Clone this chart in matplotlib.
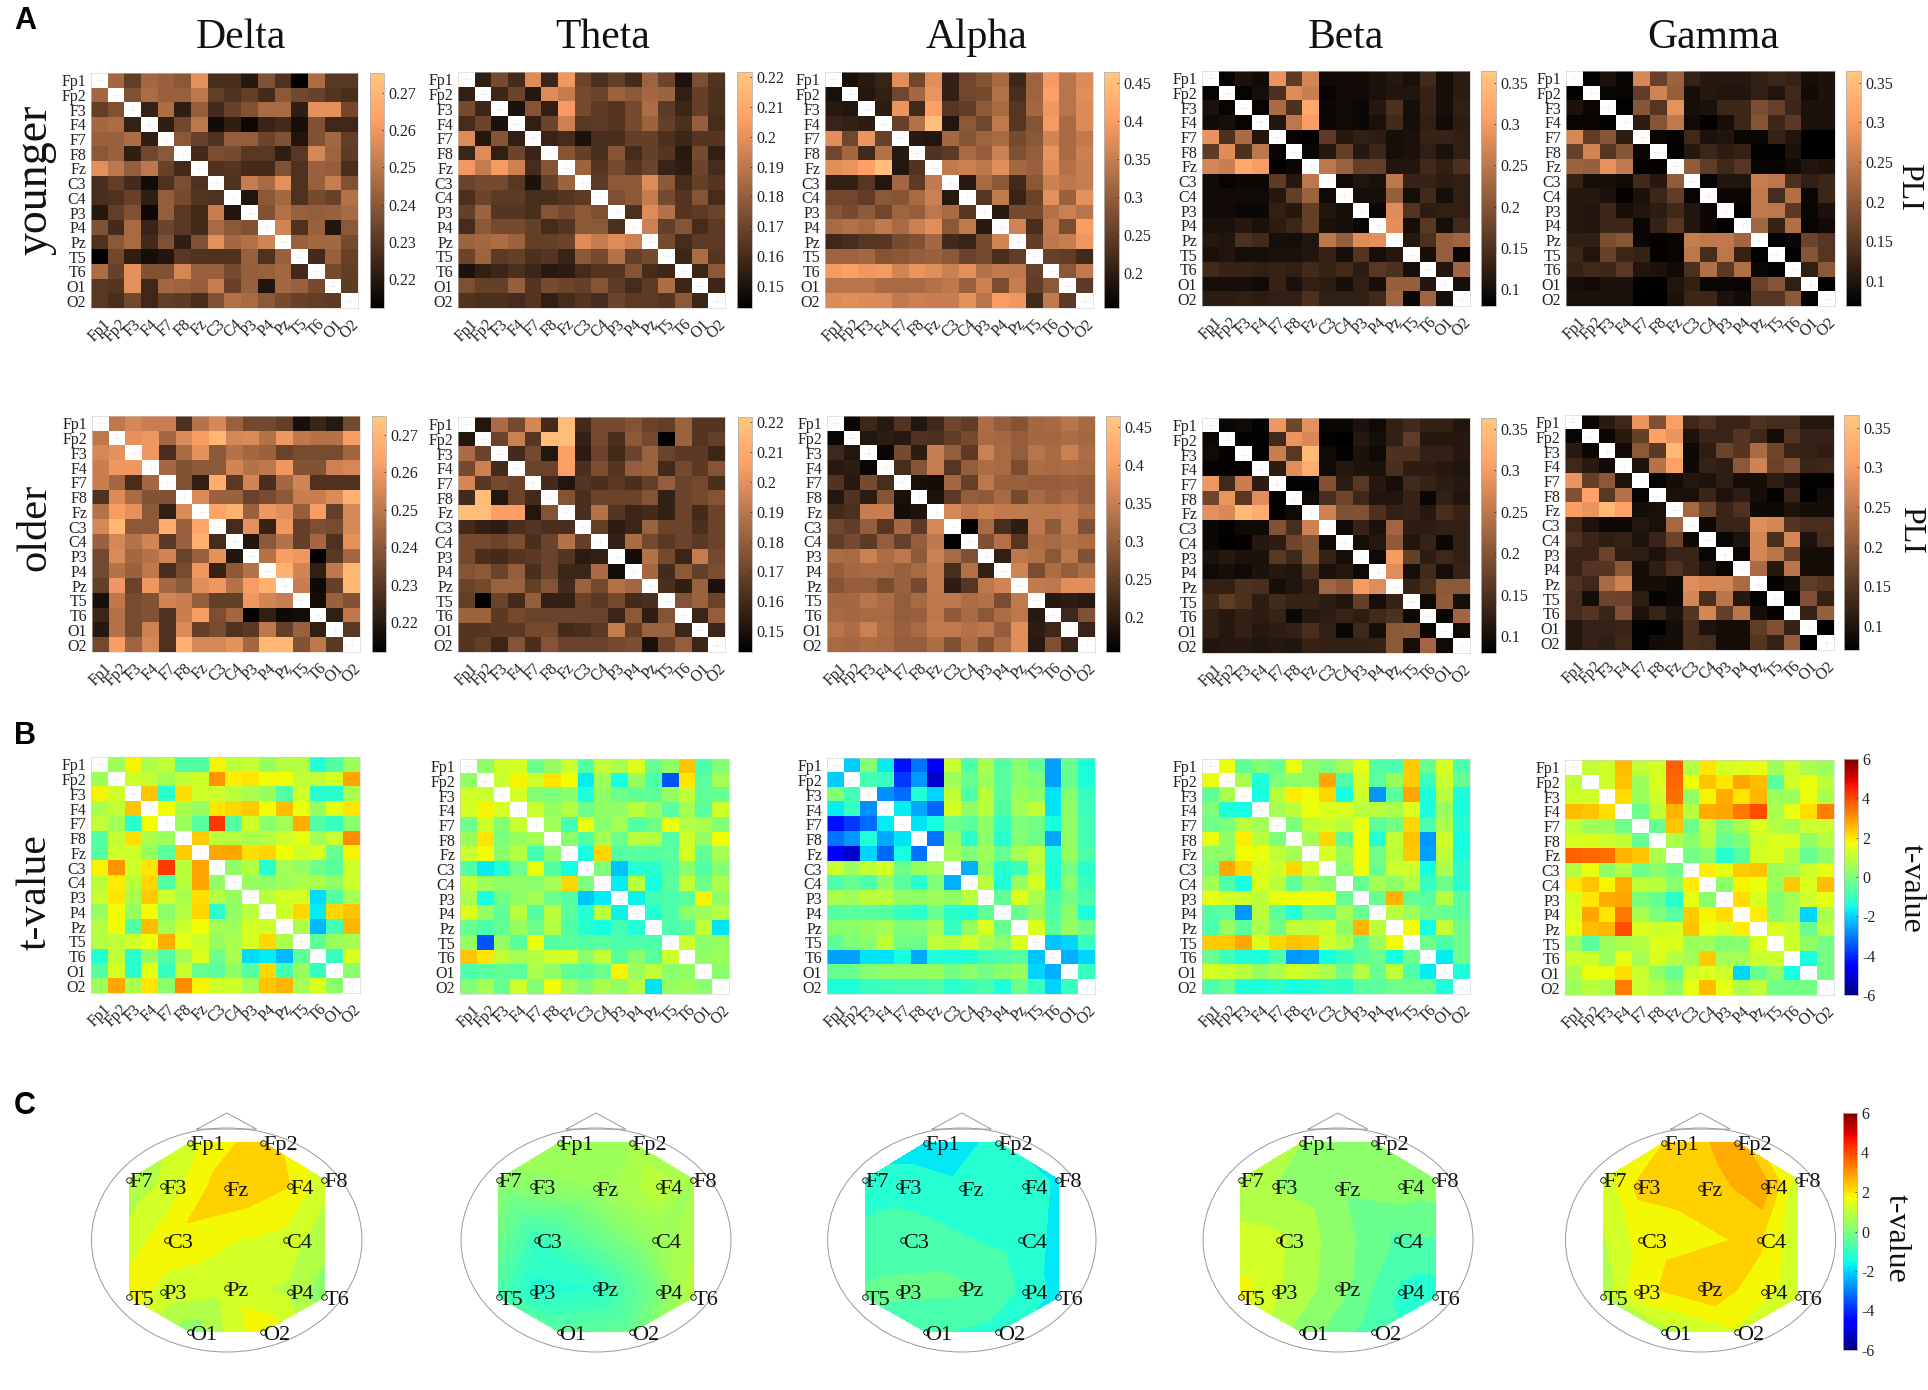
import numpy as np
import matplotlib
matplotlib.use("Agg")
import matplotlib.pyplot as plt
from matplotlib.patches import Ellipse

plt.rcParams['font.family'] = ['Liberation Serif', 'DejaVu Serif']

W, H = 1928, 1390
channels = ['Fp1', 'Fp2', 'F3', 'F4', 'F7', 'F8', 'Fz', 'C3', 'C4', 'P3', 'P4', 'Pz', 'T5', 'T6', 'O1', 'O2']
bands = ['Delta', 'Theta', 'Alpha', 'Beta', 'Gamma']

# Upper triangles, PLI x 1000, row by row
delta_younger = [
 [245,232,245,243,240,258,227,227,220,238,228,212,247,230,230],
 [238,247,243,243,250,232,228,232,226,240,235,233,229,227],
 [223,247,222,242,226,233,238,246,246,222,258,258,235],
 [222,235,250,216,222,215,224,226,217,238,225,225],
 [240,233,228,242,242,234,238,219,238,245,232],
 [226,237,236,230,230,222,230,255,244,231],
 [228,229,226,226,238,228,243,242,227],
 [228,252,246,258,228,243,252,238],
 [219,240,245,228,236,233,248],
 [238,248,243,242,243,246],
 [254,228,243,219,240],
 [243,245,245,236],
 [226,243,233],
 [236,232],
 [231]]
delta_older = [
 [250,255,252,252,228,248,255,243,235,235,232,217,224,220,235],
 [258,260,245,256,262,270,255,256,248,260,250,248,248,262],
 [260,227,246,258,240,248,245,243,233,236,236,236,244],
 [245,238,240,240,254,248,250,260,238,238,253,255],
 [238,222,266,230,254,227,245,254,228,228,228],
 [256,243,243,233,236,240,252,252,256,268],
 [264,268,243,260,257,242,262,232,255],
 [226,258,223,260,232,237,236,255],
 [219,240,248,232,245,228,258],
 [248,262,260,213,230,245],
 [268,254,222,250,270],
 [252,215,232,270],
 [216,243,238],
 [222,250],
 [230]]
theta_younger = [
 [155,172,160,198,158,203,170,162,168,160,182,170,150,174,163],
 [158,170,152,198,192,172,170,182,178,184,182,155,168,162],
 [150,176,155,204,172,166,164,172,186,166,158,168,162],
 [155,170,194,165,166,164,172,182,168,162,180,160],
 [157,160,150,161,161,168,168,162,158,164,164],
 [176,168,161,176,160,168,164,153,172,155],
 [182,164,172,164,170,157,154,170,160],
 [166,178,178,198,178,160,168,164],
 [174,178,192,172,164,176,160],
 [162,198,188,164,166,170],
 [194,168,176,160,166],
 [172,160,166,166],
 [158,186,164],
 [158,178],
 [158]]
theta_older = [
 [152,186,172,196,160,218,160,172,172,176,170,168,182,164,164],
 [170,194,165,218,218,156,172,162,178,172,144,182,164,168],
 [160,172,152,206,154,170,160,170,182,170,166,166,158],
 [170,170,206,162,174,164,180,182,160,172,166,176],
 [160,152,164,162,166,162,168,180,170,172,162],
 [176,162,170,170,170,176,156,170,172,176],
 [162,188,164,158,160,156,170,160,170],
 [168,154,158,182,170,170,162,170],
 [156,186,172,166,170,166,170],
 [148,188,172,158,192,172],
 [184,160,178,168,174],
 [162,155,182,150],
 [176,182,170],
 [158,180],
 [158]]
alpha_younger = [
 [180,195,210,375,265,375,205,265,285,320,215,310,395,335,370],
 [190,205,265,315,385,205,265,270,330,225,310,405,335,375],
 [200,385,220,405,240,250,295,320,240,315,390,335,370],
 [255,330,450,190,290,265,345,240,285,395,320,370],
 [195,190,315,285,310,320,270,290,360,320,345],
 [235,245,320,300,355,280,300,385,320,355],
 [345,355,340,375,315,305,375,330,350],
 [195,320,290,220,290,355,340,350],
 [240,345,210,260,380,305,380],
 [195,270,270,330,355,335],
 [360,225,345,275,400],
 [250,340,350,390],
 [255,250,220],
 [290,345],
 [245]]
alpha_older = [
 [165,215,195,235,190,220,265,250,325,300,285,315,320,335,320],
 [190,200,195,235,230,250,270,320,315,300,315,315,325,315],
 [165,270,200,350,300,245,355,320,300,335,320,355,325],
 [225,285,350,240,300,325,320,275,325,320,325,320],
 [180,175,315,255,340,305,305,300,300,305,300],
 [185,245,300,295,320,270,320,305,320,300],
 [365,340,355,345,345,340,340,345,325],
 [160,320,225,200,340,295,345,280],
 [280,330,240,325,320,330,325],
 [205,340,330,290,340,280],
 [360,275,325,300,325],
 [345,340,375,375],
 [195,200,195],
 [215,280],
 [210]]
beta_younger = [
 [85,105,95,290,165,270,95,95,95,105,115,105,140,100,120],
 [85,100,150,280,260,85,95,95,105,110,110,130,100,120],
 [85,235,150,320,90,95,90,115,150,100,130,100,125],
 [110,250,305,90,95,90,105,140,100,125,95,120],
 [85,82,165,115,125,120,100,105,130,130,125],
 [90,115,170,115,135,100,105,125,105,125],
 [250,220,170,170,110,110,140,125,150],
 [95,110,105,250,130,130,120,125],
 [100,100,215,100,140,100,125],
 [90,280,155,120,125,125],
 [285,100,160,100,140],
 [115,150,215,225],
 [100,215,90],
 [110,225],
 [100]]
beta_older = [
 [90,95,85,295,180,285,90,90,105,95,125,140,125,125,110],
 [85,85,140,290,275,85,80,115,100,125,165,115,115,115],
 [85,260,160,345,95,85,105,95,150,150,125,125,115],
 [120,280,325,95,115,105,105,145,120,120,115,110],
 [85,85,195,120,160,115,100,140,130,120,115],
 [95,145,180,135,110,110,130,90,125,110],
 [265,195,195,150,125,130,115,145,130],
 [95,130,105,225,120,120,125,125],
 [100,115,210,110,130,90,125],
 [95,300,170,120,135,125],
 [280,100,140,100,130],
 [130,150,205,205],
 [95,210,100],
 [90,225],
 [95]]
gamma_younger = [
 [72,95,75,270,165,215,120,105,105,105,115,125,120,90,95],
 [78,75,160,265,210,90,105,100,100,115,100,130,85,95],
 [72,195,150,285,90,95,125,125,185,165,125,95,95],
 [110,195,250,85,72,90,125,195,125,155,95,95],
 [78,72,130,95,100,78,78,120,100,70,70],
 [72,105,125,110,120,72,72,95,70,70],
 [205,160,130,150,75,75,85,100,95],
 [75,100,100,255,245,140,115,125],
 [80,80,250,135,235,78,125],
 [72,250,245,155,78,95],
 [220,120,235,75,85],
 [72,78,170,150],
 [72,195,150],
 [115,200],
 [72]]
gamma_older = [
 [82,110,130,290,190,305,130,145,125,125,145,135,135,105,105],
 [82,110,165,310,290,100,125,125,150,130,90,150,120,120],
 [88,200,155,345,85,115,170,150,230,175,125,120,115],
 [100,240,310,85,120,115,200,265,170,190,125,130],
 [78,90,105,100,115,90,90,115,100,75,75],
 [95,95,125,100,115,90,75,125,72,88],
 [225,170,125,145,85,85,100,90,90],
 [85,125,125,280,270,150,140,140],
 [80,100,270,140,270,100,135],
 [78,270,245,165,90,90],
 [230,105,245,90,90],
 [75,90,160,150],
 [75,190,120],
 [120,210],
 [72]]

# Upper triangles, t-value x 10
delta_t = [
 [5,18,7,10,-6,-6,18,9,11,4,8,8,-13,-6,5],
 [12,10,6,10,12,30,19,20,17,17,10,10,13,28],
 [24,-12,21,12,12,9,7,4,-6,12,-12,-12,7],
 [17,7,4,20,22,23,17,25,16,4,15,20],
 [5,-5,42,-6,12,2,6,27,-6,-10,2],
 [23,9,9,7,8,12,15,6,11,31],
 [28,28,21,22,17,12,14,-3,18],
 [3,8,-12,6,4,-2,-5,12],
 [4,3,5,7,7,3,12],
 [9,13,13,-19,-6,6],
 [12,22,-17,22,24],
 [7,-23,-8,26],
 [-4,4,6],
 [-10,14],
 [2]]
theta_t = [
 [3,12,13,-2,4,11,-6,10,7,14,-3,3,24,-7,1],
 [11,18,12,20,17,-17,5,-15,4,-7,-35,20,-5,6],
 [13,1,0,2,-14,3,-2,-4,-4,4,10,-4,-3],
 [11,4,8,-2,3,3,9,4,-5,6,-5,12],
 [6,-8,16,2,6,-6,-2,16,8,7,1],
 [2,-6,6,-2,9,8,-6,12,3,17],
 [-15,22,-6,-5,-6,-5,13,-4,6],
 [0,-22,-13,-12,-6,2,-6,1],
 [-17,9,-15,-5,10,-2,7],
 [-16,-8,-7,-5,18,3],
 [-13,-7,2,5,8],
 [-7,-5,10,-18],
 [11,2,4],
 [3,5],
 [2]]
alpha_t = [
 [-21,1,-17,-43,-31,-46,11,-7,7,-6,2,-4,-26,-3,-14],
 [-8,-10,-38,-27,-52,5,-3,5,-5,2,0,-26,-3,-14],
 [-28,-32,-13,-20,10,-7,9,-5,4,2,-18,1,-10],
 [-17,-25,-33,13,3,9,-6,6,10,-18,3,-9],
 [-18,-15,-2,-5,3,-10,0,-1,-15,3,-8],
 [-31,4,-12,3,-12,1,-2,-25,3,-8],
 [6,0,5,-3,6,10,-14,4,-7],
 [-24,3,-12,-10,8,-14,-1,-12],
 [9,-14,4,13,-14,2,-10],
 [-4,14,7,-8,-1,-7],
 [-3,3,-7,2,-14],
 [14,-5,4,-2],
 [-22,-20,-10],
 [-24,-20],
 [-10]]
beta_t = [
 [16,-4,0,-2,16,3,0,6,15,-6,-7,23,-3,13,-7],
 [7,-14,0,3,3,28,-7,13,-5,4,23,-9,11,-3],
 [-15,9,19,17,22,-15,12,-27,-5,28,-14,9,-14],
 [6,9,16,14,14,9,9,7,14,-14,4,-14],
 [0,10,12,9,16,-5,-1,22,-7,7,-12],
 [6,22,-4,17,-13,10,24,-27,12,-15],
 [13,5,17,-1,9,23,-26,10,-14],
 [2,17,-3,12,12,-15,7,-11],
 [-3,6,3,8,-10,-2,-12],
 [-3,26,-4,-5,8,-5],
 [9,5,-2,-3,-5],
 [17,-15,10,-2],
 [-2,-7,-2],
 [-17,-2],
 [-14]]
gamma_t = [
 [10,12,25,10,13,37,8,20,13,14,15,5,12,7,5],
 [12,24,5,14,36,16,24,20,28,25,-5,12,16,9],
 [21,5,12,35,3,18,27,20,26,5,5,16,7],
 [-2,10,26,8,27,28,34,39,7,15,21,33],
 [-3,24,-2,10,0,7,14,8,6,11,11],
 [7,2,9,-3,0,12,14,14,3,8],
 [-1,2,-12,-5,13,14,8,-3,3],
 [19,15,23,24,5,6,12,15],
 [2,18,16,5,23,14,25],
 [21,14,1,6,12,15],
 [19,2,6,-20,7],
 [14,11,-3,10],
 [12,3,-1],
 [-15,-1],
 [-1]]

# Scalp map: t-value per electrode, in the order of `channels`
delta_topo = [1.3,2.4,1.1,2.0,0.6,1.2,2.4,1.8,1.3,1.3,0.9,1.2,1.8,0.2,0.2,1.9]
theta_topo = [0.6,0.6,0.3,1.0,0.3,0.6,0.4,-1.0,0.4,-1.3,0.0,-1.2,-0.7,0.9,-0.5,-0.3]
alpha_topo = [-1.8,-1.4,-1.2,-1.2,-1.3,-1.6,-1.4,-0.7,-1.2,-0.4,-1.1,-0.4,-0.4,-1.7,-0.9,-1.2]
beta_topo = [0.5,0.5,0.5,0.3,0.6,0.3,0.1,1.1,-0.6,1.1,-1.1,0.2,1.7,-1.3,0.3,-0.8]
gamma_topo = [2.0,2.8,2.1,2.8,1.2,1.2,2.2,1.7,2.1,1.8,1.7,2.4,0.7,1.0,0.8,1.4]

# Electrode layout on a unit head
elec_x = [-.27,.27,-.47,.47,-.72,.72,0,-.44,.44,-.47,.47,0,-.72,.72,-.27,.27]
elec_y = [.87,.87,.48,.48,.54,.54,.46,0,0,-.46,-.46,-.43,-.51,-.51,-.82,-.82]

younger = [delta_younger, theta_younger, alpha_younger, beta_younger, gamma_younger]
older = [delta_older, theta_older, alpha_older, beta_older, gamma_older]
tvals = [delta_t, theta_t, alpha_t, beta_t, gamma_t]
topos = [delta_topo, theta_topo, alpha_topo, beta_topo, gamma_topo]
topo_steps = [.5, .2, .5, .5, .5]

cbar_ticks = [[.22,.23,.24,.25,.26,.27],
              [.15,.16,.17,.18,.19,.20,.21,.22],
              [.20,.25,.30,.35,.40,.45],
              [.10,.15,.20,.25,.30,.35],
              [.10,.15,.20,.25,.30,.35]]
younger_lims = [(.2122,.2754),(.1426,.2217),(.154,.4645),(.0794,.3645),(.068,.365)]
older_lims = [(.212,.2751),(.143,.2217),(.154,.4645),(.0795,.363),(.07,.366)]
t_ticks = [-6,-4,-2,0,2,4,6]

# pixel boxes: x0, x1, y0, y1
younger_box = [(91,358,73,308),(458,725,72,308),(825,1093,72,308),(1202,1470,71,306),(1566,1835,71,306)]
younger_cb = [(370,384),(737,752),(1104,1119),(1481,1496),(1846,1861)]
older_box = [(92,360,416,652),(458,725,417,652),(827,1095,416,652),(1202,1470,418,653),(1565,1834,415,650)]
older_cb = [(372,386),(738,752),(1106,1120),(1481,1496),(1844,1859)]
t_box = [(91,360,757,993),(460,729,759,994),(827,1095,758,994),(1202,1470,759,994),(1565,1834,760,995)]
head_box = [(91.5,362),(461,731),(827.6,1096),(1203,1473),(1565.5,1835.6)]
title_x = [241,603,977,1346,1713]

fig = plt.figure(figsize=(W/100, H/100), dpi=100, facecolor='white')

def pax(x0, x1, y0, y1):
    return fig.add_axes([x0/W, 1-y1/H, (x1-x0)/W, (y1-y0)/H])

def ptext(x, y, s, **kw):
    fig.text(x/W, 1-y/H, s, ha=kw.pop('ha','center'), va=kw.pop('va','center'), **kw)

def to_matrix(tri, scale):
    m = np.full((16,16), np.nan)
    for i, row in enumerate(tri):
        for k, v in enumerate(row):
            m[i, i+1+k] = m[i+1+k, i] = v*scale
    return m

def fmt(v):
    return ('%.2f' % v).rstrip('0')

def heat(box, tri, scale, cmap, lims):
    ax = pax(*box)
    cm = plt.get_cmap(cmap).copy()
    cm.set_bad('white')
    im = ax.imshow(to_matrix(tri, scale), cmap=cm, vmin=lims[0], vmax=lims[1],
                   aspect='auto', interpolation='nearest')
    d = np.arange(16)
    ax.plot(d, d, ls='none', marker='+', ms=7, mew=.4, color='0.92')
    ax.set_xlim(-.5, 15.5); ax.set_ylim(15.5, -.5)
    ax.set_xticks(d); ax.set_yticks(d)
    ax.set_xticklabels(channels, rotation=45, ha='center', fontsize=11.5)
    ax.set_yticklabels(channels, fontsize=11.5)
    ax.tick_params(axis='x', length=0, pad=6, colors='#222222')
    ax.tick_params(axis='y', length=0, pad=3.5, colors='#222222')
    for s in ax.spines.values():
        s.set_linewidth(.4); s.set_color('0.8')
    return im

def cbar(im, x0, x1, y0, y1, ticks, labels):
    cax = pax(x0, x1, y0, y1)
    cb = fig.colorbar(im, cax=cax)
    cb.set_ticks(ticks); cb.set_ticklabels(labels)
    cb.ax.tick_params(length=1.5, width=.5, pad=3, labelsize=11.5, colors='#222222', direction='in')
    cb.outline.set_linewidth(.6); cb.outline.set_edgecolor('0.7')

for i in range(5):
    ptext(title_x[i], 38, bands[i], fontsize=30, color='#111111')
    labels = [fmt(v) for v in cbar_ticks[i]]
    im = heat(younger_box[i], younger[i], 1e-3, 'copper', younger_lims[i])
    cbar(im, *younger_cb[i], younger_box[i][2], younger_box[i][3], cbar_ticks[i], labels)
    im = heat(older_box[i], older[i], 1e-3, 'copper', older_lims[i])
    cbar(im, *older_cb[i], older_box[i][2], older_box[i][3], cbar_ticks[i], labels)
    im = heat(t_box[i], tvals[i], .1, 'jet', (-6, 6))
    if i == 4:
        cbar(im, 1844, 1858, 759, 995, t_ticks, [str(v) for v in t_ticks])

    # scalp map
    x0, x1 = head_box[i]
    ax = pax(x0, x1, 1113, 1352)
    ax.set_xlim(-1, 1); ax.set_ylim(-1, 1 + 15/112)
    ax.axis('off')
    ax.tricontourf(elec_x, elec_y, topos[i], levels=np.arange(-6, 6.01, topo_steps[i]),
                   cmap='jet', vmin=-6, vmax=6)
    ax.add_patch(Ellipse((0, 0), 2, 2, fill=False, ec='0.6', lw=.7, clip_on=False))
    ax.plot([-.22, 0, .22, -.22], [.99, 1.134, .99, .99], color='0.6', lw=.7, clip_on=False)
    ax.plot(elec_x, elec_y, ls='none', marker='o', ms=4, mfc='none', mec='black', mew=.6, clip_on=False)
    for n, ex, ey in zip(channels, elec_x, elec_y):
        ax.text(ex, ey - .03, n, ha='left', va='center', fontsize=16, color='#111111', clip_on=False)

cax = pax(1843, 1857, 1113, 1350)
sm = plt.cm.ScalarMappable(norm=plt.Normalize(-6, 6), cmap='jet')
cb = fig.colorbar(sm, cax=cax)
cb.set_ticks(t_ticks); cb.set_ticklabels([str(v) for v in t_ticks])
cb.ax.tick_params(length=1.5, width=.5, pad=3, labelsize=11.5, colors='#222222', direction='in')
cb.outline.set_linewidth(.6); cb.outline.set_edgecolor('0.7')

ptext(35, 180, 'younger', fontsize=33, rotation=90, color='#111111')
ptext(35, 527, 'older', fontsize=30.5, rotation=90, color='#111111')
ptext(35, 892, 't-value', fontsize=30, rotation=90, color='#111111')
ptext(1909, 187, 'PLI', fontsize=23, rotation=-90, color='#111111')
ptext(1911, 530, 'PLI', fontsize=23, rotation=-90, color='#111111')
ptext(1911, 888, 't-value', fontsize=23, rotation=-90, color='#111111')
ptext(1896, 1238, 't-value', fontsize=23, rotation=-90, color='#111111')

for s, y in zip('ABC', [21, 736, 1106]):
    ptext(14, y, s, fontsize=22, fontweight='bold', family='Liberation Sans', ha='left', color='black')

fig.savefig('out.png', dpi=100, facecolor='white')
